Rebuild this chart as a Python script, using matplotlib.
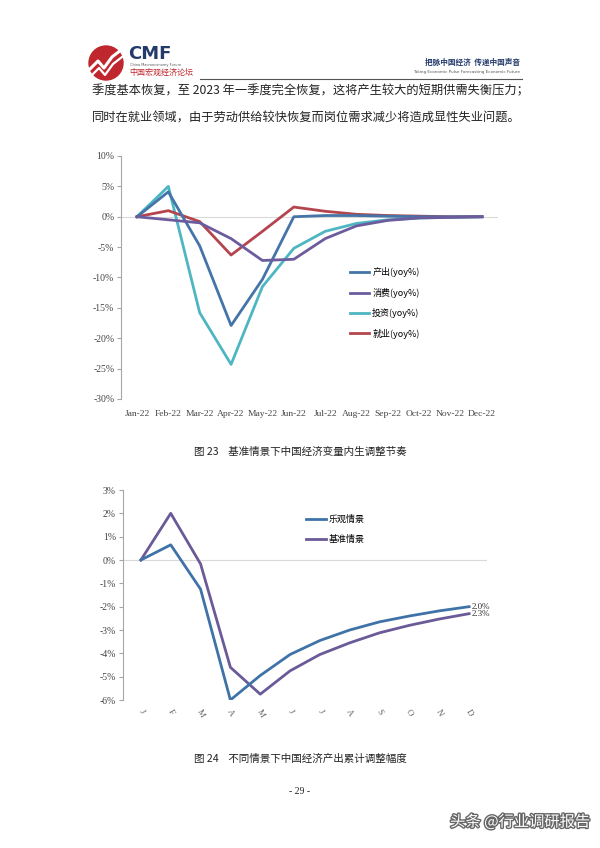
import matplotlib.pyplot as plt
import matplotlib.patheffects as pe
from matplotlib.patches import Circle
import numpy as np

plt.rcParams['font.family'] = ['Liberation Serif', 'Noto Sans CJK SC', 'DejaVu Sans']

# ---- data: figure 23 ----
months = ['Jan-22', 'Feb-22', 'Mar-22', 'Apr-22', 'May-22', 'Jun-22',
          'Jul-22', 'Aug-22', 'Sep-22', 'Oct-22', 'Nov-22', 'Dec-22']
output_yoy = [0, 4.1, -4.8, -17.9, -10.3, 0.0, 0.2, 0.2, 0.1, 0.0, 0.0, 0.0]
consume_yoy = [0, -0.5, -1.0, -3.6, -7.2, -7.0, -3.6, -1.5, -0.6, -0.2, -0.1, 0.0]
invest_yoy = [0, 5.0, -15.8, -24.3, -11.5, -5.2, -2.4, -1.1, -0.5, -0.2, -0.1, 0.0]
employ_yoy = [0, 1.0, -0.8, -6.3, -2.4, 1.6, 0.9, 0.4, 0.2, 0.1, 0.0, 0.0]
yticks1 = [10, 5, 0, -5, -10, -15, -20, -25, -30]

# ---- data: figure 24 ----
month_letters = ['J', 'F', 'M', 'A', 'M', 'J', 'J', 'A', 'S', 'O', 'N', 'D']
optimistic = [0, 0.65, -1.25, -6.0, -4.95, -4.05, -3.45, -3.0, -2.65, -2.4, -2.18, -2.0]
baseline = [0, 2.0, -0.17, -4.6, -5.75, -4.75, -4.05, -3.55, -3.12, -2.8, -2.53, -2.3]
yticks2 = [3, 2, 1, 0, -1, -2, -3, -4, -5, -6]
end_labels = ['2.0%', '2.3%']

W, H = 600, 848
fig = plt.figure(figsize=(6, 8.48), dpi=100)
fig.patch.set_facecolor('white')


def px_axes(left, top, right, bottom):
    return fig.add_axes([left / W, 1 - bottom / H, (right - left) / W, (bottom - top) / H])


cjk = ['Noto Sans CJK SC', 'DejaVu Sans']

# overlay for page elements, pixel coordinates
page = fig.add_axes([0, 0, 1, 1])
page.set_xlim(0, W)
page.set_ylim(H, 0)
page.axis('off')

# logo
page.add_patch(Circle((106, 63), 17, color='#c0262d'))
zx = [90, 98, 104, 112, 121]
zy = [69, 61, 68, 57, 50]
page.plot(zx, zy, color='white', lw=2.2)
page.plot(np.array(zx) + 1, np.array(zy) + 7, color='white', lw=1.6)
page.text(128, 54, 'CMF', fontsize=13, fontweight='bold', color='#243a6b',
          family='DejaVu Sans', va='center', ha='left')
page.text(130, 65, 'China Macroeconomy Forum', fontsize=2.5, color='#555555',
          family='DejaVu Sans', va='center')
page.text(129, 72, '中国宏观经济论坛', fontsize=5.8, color='#c0262d',
          family=cjk, va='center')
page.text(520, 62, '把脉中国经济  传递中国声音', fontsize=5.5, fontweight='bold',
          color='#243a6b', family=cjk, ha='right', va='center')
page.text(520, 72, 'Taking Economic Pulse Forecasting Economic Future', fontsize=3,
          color='#555555', family='DejaVu Sans', ha='right', va='center')
page.plot([200, 522], [79, 79], color='#555555', lw=0.8)

page.text(92, 91, '季度基本恢复，至 2023 年一季度完全恢复，这将产生较大的短期供需失衡压力；',
          fontsize=8.8, family=cjk, va='center', color='#222222')
page.text(92, 118, '同时在就业领域，由于劳动供给较快恢复而岗位需求减少将造成显性失业问题。',
          fontsize=8.8, family=cjk, va='center', color='#222222')

page.text(300, 452, '图 23    基准情景下中国经济变量内生调整节奏', fontsize=7.6,
          family=cjk, ha='center', va='center', color='#222222')
page.text(300, 759, '图 24    不同情景下中国经济产出累计调整幅度', fontsize=7.6,
          family=cjk, ha='center', va='center', color='#222222')
page.text(300, 792, '- 29 -', fontsize=7, ha='center', va='center', color='#222222')
page.text(590, 822, '头条 @行业调研报告', fontsize=11, family=cjk, ha='right',
          va='center', color='white',
          path_effects=[pe.withStroke(linewidth=2, foreground='#666666')])

# ---- figure 23 ----
ax1 = px_axes(121.3, 156, 497.7, 399)
x = np.arange(len(months))
ax1.axhline(0, color='#d9d9d9', lw=0.8, zorder=1)
ax1.plot(x, output_yoy, color='#4474a8', lw=2, label='产出(yoy%)', zorder=3)
ax1.plot(x, consume_yoy, color='#6c5c9d', lw=2, label='消费(yoy%)', zorder=3)
ax1.plot(x, invest_yoy, color='#4db6c2', lw=2, label='投资(yoy%)', zorder=2)
ax1.plot(x, employ_yoy, color='#b4444d', lw=2, label='就业(yoy%)', zorder=2)
ax1.set_xlim(-0.5, 11.5)
ax1.set_ylim(-30, 10)
ax1.set_yticks(yticks1)
ax1.set_yticklabels([f'{v}%' for v in yticks1])
ax1.set_xticks(x)
ax1.set_xticklabels(months)
for s in ['top', 'right', 'bottom']:
    ax1.spines[s].set_visible(False)
ax1.spines['left'].set_color('#a6a6a6')
ax1.tick_params(axis='y', length=3, color='#a6a6a6', labelsize=7, labelcolor='#444444', pad=2)
ax1.tick_params(axis='x', length=0, labelsize=6.8, labelcolor='#444444', pad=8)
ax1.legend(loc='upper left', bbox_to_anchor=(0.585, 0.575), frameon=False,
           handlelength=2.2, handletextpad=0.3, labelspacing=1.15, prop={'family': cjk, 'size': 6.5})

# ---- figure 24 ----
ax2 = px_axes(123, 490, 487, 700)
x2 = np.arange(len(month_letters))
ax2.axhline(0, color='#d9d9d9', lw=0.8, zorder=1)
ax2.plot(x2, optimistic, color='#3f73a8', lw=2, label='乐观情景', zorder=3)
ax2.plot(x2, baseline, color='#6a5a98', lw=2, label='基准情景', zorder=2)
ax2.text(x2[-1] + 0.1, optimistic[-1], end_labels[0], fontsize=6.5, va='center', ha='left', color='#333333')
ax2.text(x2[-1] + 0.1, baseline[-1], end_labels[1], fontsize=6.5, va='center', ha='left', color='#333333')
ax2.set_xlim(-0.6, 11.6)
ax2.set_ylim(-6, 3)
ax2.set_yticks(yticks2)
ax2.set_yticklabels([f'{v}%' for v in yticks2])
ax2.set_xticks(x2)
ax2.set_xticklabels(month_letters, rotation=-60, ha='center')
for s in ['top', 'right', 'bottom']:
    ax2.spines[s].set_visible(False)
ax2.spines['left'].set_color('#a6a6a6')
ax2.tick_params(axis='y', length=3, color='#a6a6a6', labelsize=7, labelcolor='#444444', pad=2)
ax2.tick_params(axis='x', length=0, labelsize=6.5, labelcolor='#666666', pad=6)
ax2.legend(loc='upper left', bbox_to_anchor=(0.48, 0.92), frameon=False,
           handlelength=2.2, handletextpad=0.3, labelspacing=1.2, prop={'family': cjk, 'size': 6.5})

fig.savefig('out.png', dpi=100)
